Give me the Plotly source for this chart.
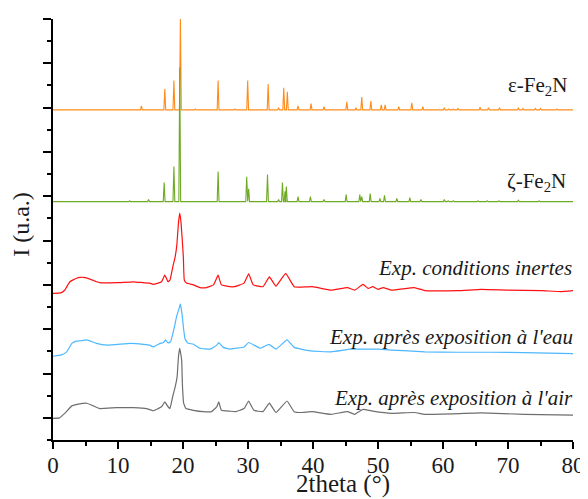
import plotly.graph_objects as go

# ---- reference patterns: peak positions (2theta) and heights (a.u.) ----
eps_base = 6.95
eps_pos = [13.6, 17.2, 18.6, 19.6, 21.9, 25.4, 28.0, 29.95, 33.1, 34.7, 35.5, 36.05, 37.7,
           39.7, 41.7, 45.2, 46.6, 47.5, 48.9, 50.5, 51.1, 53.2, 55.2, 56.9, 60.2, 60.9,
           61.6, 62.3, 65.7, 67.0, 68.7, 71.6, 72.3, 74.2, 75.0, 77.5]
eps_int = [0.09, 0.47, 0.66, 2.05, 0.02, 0.66, 0.02, 0.66, 0.58, 0.05, 0.50, 0.41, 0.09,
           0.14, 0.07, 0.18, 0.05, 0.29, 0.20, 0.11, 0.11, 0.07, 0.16, 0.07, 0.05, 0.02,
           0.02, 0.03, 0.06, 0.05, 0.05, 0.05, 0.03, 0.03, 0.03, 0.02]

zeta_base = 4.88
zeta_pos = [11.8, 14.7, 17.1, 18.6, 19.5, 25.4, 29.8, 30.1, 33.0, 34.7, 35.3, 35.7, 35.9,
            37.7, 39.6, 41.7, 45.1, 47.2, 47.5, 48.8, 50.3, 51.0, 52.9, 54.9, 56.6, 60.2,
            60.8, 61.6, 65.4, 66.8, 68.6, 71.6, 74.8]
zeta_int = [0.02, 0.05, 0.43, 0.79, 3.03, 0.68, 0.56, 0.29, 0.61, 0.05, 0.43, 0.23, 0.34,
            0.11, 0.11, 0.05, 0.16, 0.16, 0.11, 0.18, 0.07, 0.14, 0.07, 0.09, 0.05, 0.05,
            0.02, 0.02, 0.02, 0.02, 0.02, 0.03, 0.02]

# ---- experimental patterns (2theta, intensity incl. offset) ----
inert_x = [0, 1.2, 1.8, 2.6, 3.6, 4.2, 4.7, 5.7, 6.7, 7.2, 9.8, 12.4, 13.9, 14.9, 15.4, 16.7,
           17.2, 17.7, 18.0, 18.5, 18.8, 19.05, 19.3, 19.5, 19.7, 20.05, 20.2, 20.55, 21.6,
           22.6, 23.6, 24.7, 25.4, 25.9, 27.2, 27.9, 29.4, 30.1, 30.8, 32.3, 33.3, 34.3,
           35.8, 37.1, 38.2, 39.9, 42.8, 45.3, 46.4, 47.7, 48.5, 49.2, 50.0, 50.8, 52.1,
           55.6, 57.2, 62.3, 65.9, 70.0, 75.1, 78.2, 80.0]
inert_y = [2.81, 2.82, 2.88, 3.07, 3.15, 3.17, 3.17, 3.13, 3.07, 3.05, 3.05, 3.07, 3.05, 3.04,
           3.01, 3.07, 3.22, 3.07, 3.11, 3.45, 3.64, 3.90, 4.40, 4.62, 4.40, 3.64, 3.11, 3.04,
           3.00, 2.94, 2.94, 3.00, 3.22, 3.00, 2.96, 2.96, 3.04, 3.25, 3.00, 2.96, 3.18, 2.97,
           3.26, 2.96, 2.95, 2.96, 2.88, 2.94, 2.88, 3.01, 2.92, 2.96, 2.90, 2.94, 2.88,
           2.94, 2.87, 2.87, 2.90, 2.88, 2.87, 2.85, 2.87]

water_x = [0, 1.3, 2.1, 2.9, 3.6, 4.2, 5.2, 6.7, 8.3, 11.9, 13.9, 14.9, 15.4, 16.5, 17.0,
           17.3, 17.7, 18.1, 18.5, 18.8, 19.0, 19.4, 19.6, 19.9, 20.05, 20.3, 20.7, 21.6,
           22.6, 24.2, 25.2, 25.5, 26.2, 27.2, 28.1, 29.4, 30.1, 31.9, 33.2, 34.3, 36.0,
           37.1, 38.2, 39.6, 42.8, 45.8, 48.5, 50.0, 52.1, 57.2, 62.3, 67.4, 72.5, 80.0]
water_y = [1.39, 1.42, 1.49, 1.68, 1.73, 1.74, 1.76, 1.68, 1.64, 1.68, 1.66, 1.64, 1.60, 1.68,
           1.70, 1.76, 1.69, 1.72, 1.94, 2.13, 2.28, 2.47, 2.57, 2.28, 2.06, 1.79, 1.69, 1.66,
           1.57, 1.55, 1.64, 1.70, 1.59, 1.55, 1.57, 1.60, 1.70, 1.57, 1.66, 1.55, 1.76,
           1.59, 1.55, 1.51, 1.49, 1.55, 1.55, 1.55, 1.53, 1.49, 1.48, 1.48, 1.47, 1.45]

air_x = [0, 1.0, 1.8, 2.9, 3.9, 5.2, 6.2, 7.2, 9.8, 12.4, 14.4, 15.4, 16.7, 17.2, 17.7, 18.0,
         18.4, 18.8, 19.1, 19.3, 19.5, 19.8, 19.9, 20.1, 20.45, 21.6, 23.1, 24.4, 25.2, 25.5,
         25.9, 27.2, 28.1, 29.4, 30.1, 30.9, 32.3, 33.3, 34.3, 36.0, 37.1, 38.2, 39.9, 42.8,
         45.3, 46.4, 47.7, 49.2, 52.1, 55.6, 57.2, 65.9, 72.5, 80.0]
air_y = [-0.01, 0.00, 0.10, 0.27, 0.31, 0.33, 0.27, 0.21, 0.23, 0.23, 0.21, 0.16, 0.25, 0.36,
         0.25, 0.21, 0.47, 0.70, 0.93, 1.38, 1.57, 1.30, 0.78, 0.33, 0.21, 0.17, 0.14, 0.14,
         0.25, 0.36, 0.17, 0.15, 0.14, 0.21, 0.38, 0.17, 0.14, 0.33, 0.12, 0.38, 0.14, 0.12,
         0.14, 0.08, 0.14, 0.08, 0.19, 0.15, 0.10, 0.12, 0.08, 0.11, 0.08, 0.06]

labels = ["ε-Fe<sub>2</sub>N", "ζ-Fe<sub>2</sub>N", "<i>Exp. conditions inertes</i>",
          "<i>Exp. après exposition à l'eau</i>", "<i>Exp. après exposition à l'air</i>"]
label_y = [7.49, 5.33, 3.38, 1.82, 0.44]
label_dx = [-4, -5, 1, 2, 2]

colors = ["#FF8C1A", "#6FAA25", "#FF1010", "#4DB8FF", "#6E6E6E"]


def stick_pattern(base, pos, inten, w=0.14):
    xs, ys = [0.0], [base]
    for p, h in zip(pos, inten):
        xs += [p - w, p, p + w]
        ys += [base, base + h, base]
    xs.append(80.0)
    ys.append(base)
    return xs, ys


fig = go.Figure()
ex, ey = stick_pattern(eps_base, eps_pos, eps_int)
zx, zy = stick_pattern(zeta_base, zeta_pos, zeta_int)
series = [(ex, ey, 1.1, "linear"), (zx, zy, 1.1, "linear"), (inert_x, inert_y, 1.2, "spline"),
          (water_x, water_y, 1.2, "spline"), (air_x, air_y, 1.2, "spline")]
for (xs, ys, lw, shp), c in zip(series, colors):
    fig.add_trace(go.Scatter(x=xs, y=ys, mode="lines",
                             line=dict(color=c, width=lw, shape=shp, smoothing=0.3),
                             showlegend=False, cliponaxis=True))

serif = "Liberation Serif"
txt = "#1a1a1a"
for t, yv, dx in zip(labels, label_y, label_dx):
    fig.add_annotation(text=t, x=1.0, xref="paper", xanchor="right", y=yv, yref="y",
                       yanchor="middle", xshift=dx, showarrow=False,
                       font=dict(family=serif, size=21, color=txt))

fig.add_annotation(text="2theta (°)", x=44.6, xref="x", y=-0.105, yref="paper",
                   yanchor="middle", xanchor="center", showarrow=False,
                   font=dict(family=serif, size=25, color=txt))
fig.add_annotation(text="I (u.a.)", x=-0.062, xref="paper", y=0.513, yref="paper",
                   yanchor="middle", xanchor="center", textangle=-90, showarrow=False,
                   font=dict(family=serif, size=24, color=txt))

# the page body has an 8px margin, so the figure is 8px smaller than the window
fig.update_layout(
    width=580, height=491,
    margin=dict(l=45, r=15, t=11, b=59, autoexpand=False),
    paper_bgcolor="white", plot_bgcolor="white",
    font=dict(family=serif, color=txt),
)
fig.update_xaxes(range=[0, 80], dtick=10, tick0=0, showgrid=False, zeroline=False,
                 automargin=False,
                 showline=True, linecolor="black", linewidth=2,
                 ticks="outside", ticklen=7, tickwidth=2, tickcolor="black",
                 ticklabelstandoff=-4,
                 tickfont=dict(family=serif, size=23, color=txt),
                 minor=dict(dtick=5, tick0=0, ticks="outside", ticklen=4, tickwidth=2,
                            tickcolor="black", showgrid=False))
fig.update_yaxes(range=[-0.5, 9], dtick=1, tick0=0, showgrid=False, zeroline=False,
                 automargin=False,
                 showline=True, linecolor="black", linewidth=2, showticklabels=False,
                 ticks="outside", ticklen=8, tickwidth=2, tickcolor="black",
                 minor=dict(dtick=0.5, tick0=0, ticks="outside", ticklen=4, tickwidth=2,
                            tickcolor="black", showgrid=False))

fig.write_html("out.html")
